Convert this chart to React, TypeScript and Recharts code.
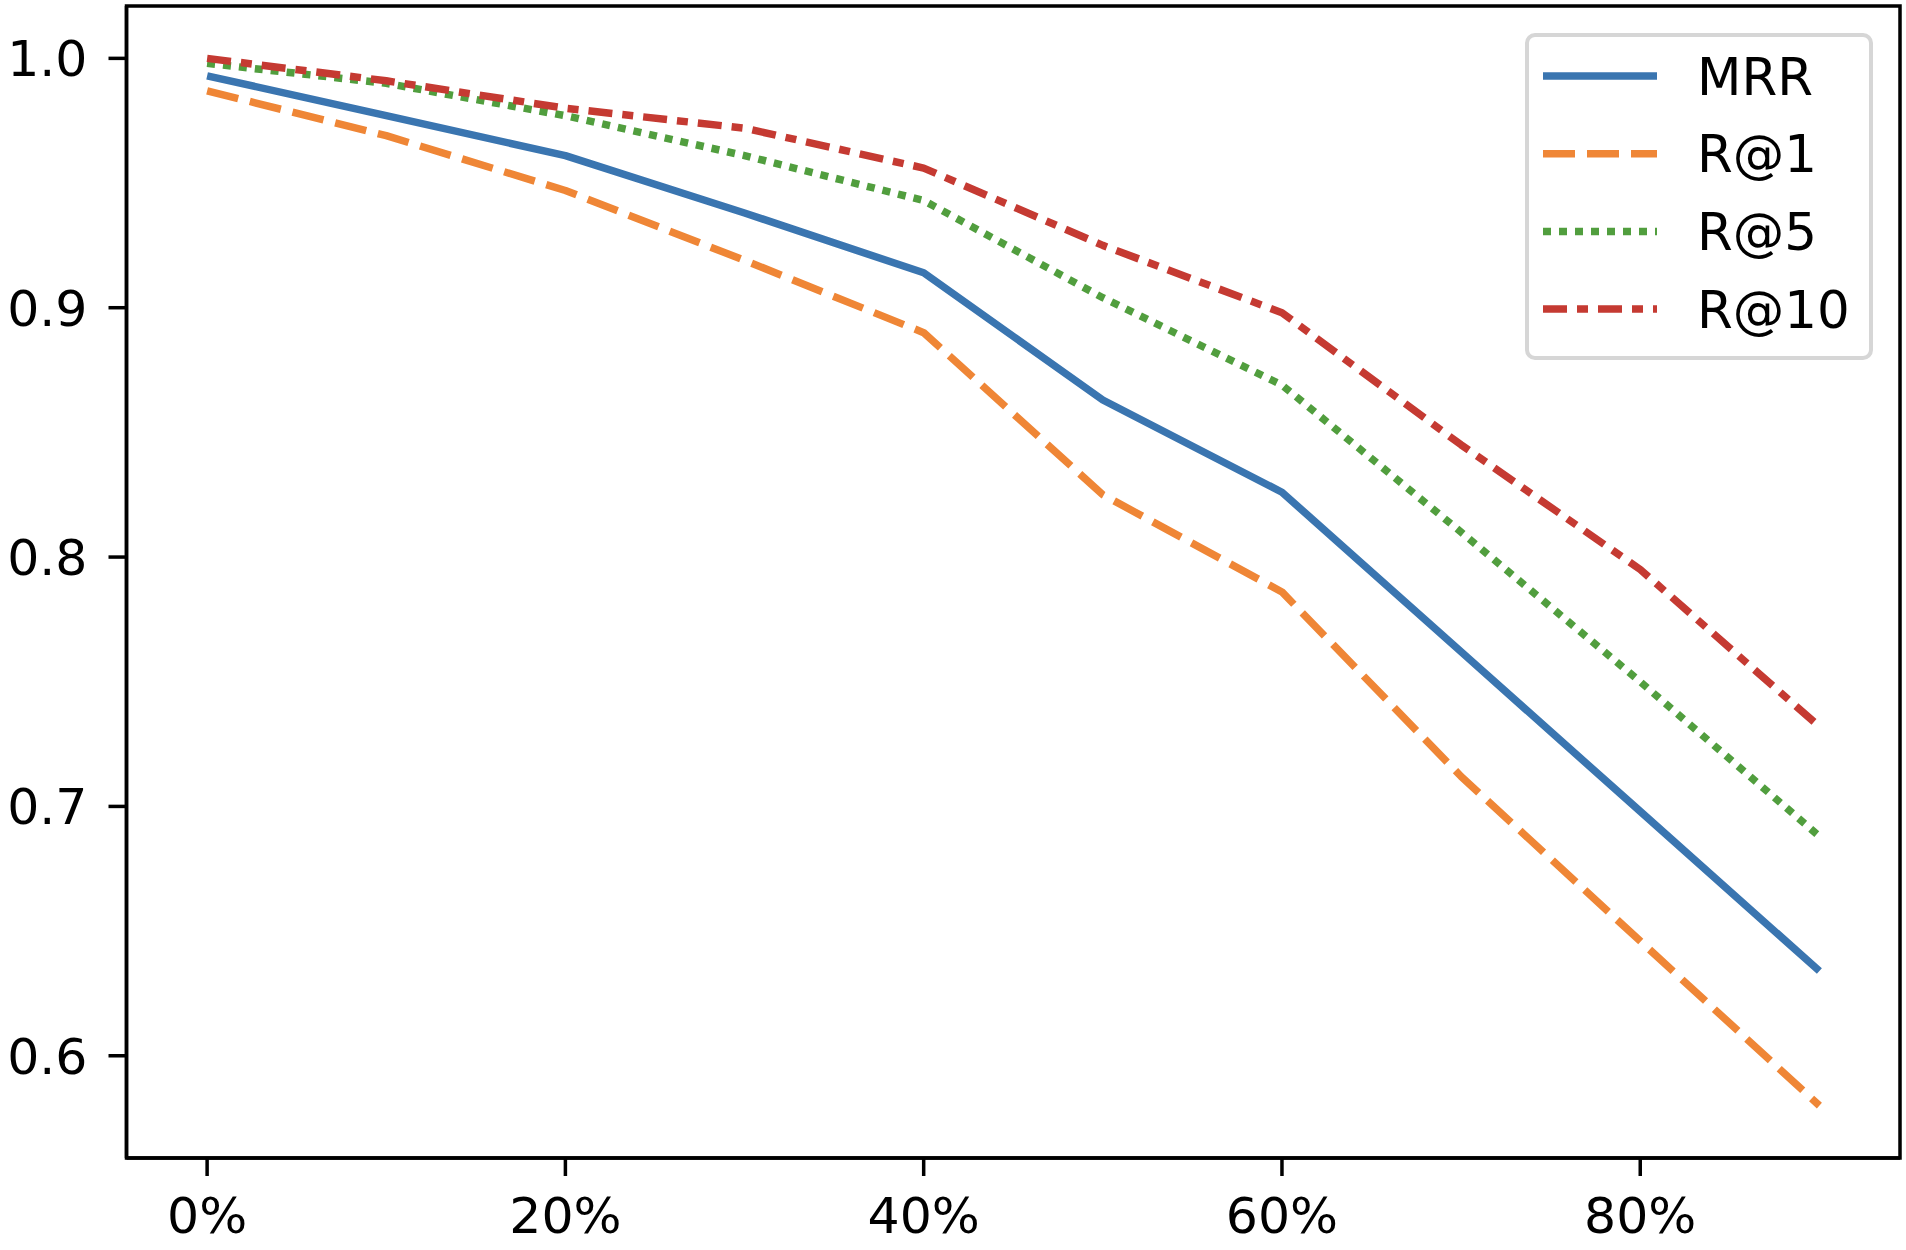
import { Legend, Line, LineChart, ReferenceArea, XAxis, YAxis } from "recharts";

const noise = [0, 10, 20, 30, 40, 50, 60, 70, 80, 90];
const mrr = [0.993, 0.977, 0.961, 0.938, 0.914, 0.863, 0.826, 0.762, 0.698, 0.634];
const r1 = [0.987, 0.969, 0.947, 0.919, 0.89, 0.825, 0.786, 0.712, 0.646, 0.58];
const r5 = [0.998, 0.99, 0.977, 0.961, 0.943, 0.904, 0.869, 0.81, 0.75, 0.688];
const r10 = [1.0, 0.991, 0.98, 0.972, 0.956, 0.925, 0.898, 0.845, 0.795, 0.732];

const xTicks = [0, 20, 40, 60, 80];
const yTicks = [0.6, 0.7, 0.8, 0.9, 1.0];
const X_DOMAIN: [number, number] = [-4.5, 94.5];
const Y_DOMAIN: [number, number] = [0.559, 1.021];

const SERIES = [
  { key: "mrr", name: "MRR", color: "#3a75b0", dash: undefined },
  { key: "r1", name: "R@1", color: "#ef8636", dash: "32 12" },
  { key: "r5", name: "R@5", color: "#519e3e", dash: "8 8" },
  { key: "r10", name: "R@10", color: "#c53a32", dash: "24 10 11 10" },
];

const FONT = "'DejaVu Sans', sans-serif";

const data = noise.map((n, i) => ({
  noise: n,
  mrr: mrr[i],
  r1: r1[i],
  r5: r5[i],
  r10: r10[i],
}));

function LegendBox() {
  return (
    <div
      style={{
        width: 348,
        height: 327,
        boxSizing: "border-box",
        border: "4px solid #d6d6d6",
        borderRadius: 10,
        background: "rgba(255,255,255,0.8)",
      }}
    >
      <svg width={340} height={319}>
        {SERIES.map((s, i) => {
          const y = 39 + i * 77.7;
          return (
            <g key={s.key}>
              <line
                x1={14}
                x2={128}
                y1={y}
                y2={y}
                stroke={s.color}
                strokeWidth={7.5}
                strokeDasharray={s.dash}
              />
              <text
                x={168}
                y={y}
                dy="0.36em"
                fontSize={51.5}
                fontFamily={FONT}
                fill="#000"
              >
                {s.name}
              </text>
            </g>
          );
        })}
      </svg>
    </div>
  );
}

export default function App() {
  const tickStyle = { fill: "#000", fontSize: 50.5, fontFamily: FONT };
  const axisStroke = { stroke: "#000", strokeWidth: 3.5 };
  return (
    <div style={{ width: 1906, height: 1250, background: "#fff" }}>
      <style>{`body { margin: 0; }`}</style>
      <LineChart
        width={1906}
        height={1250}
        data={data}
        margin={{ top: 6, right: 6, bottom: 0, left: 0 }}
      >
        <XAxis
          dataKey="noise"
          type="number"
          domain={X_DOMAIN}
          ticks={xTicks}
          tickFormatter={(v: number) => `${v}%`}
          tick={tickStyle}
          tickSize={18}
          tickMargin={21}
          tickLine={axisStroke}
          axisLine={axisStroke}
          height={92}
          allowDataOverflow
        />
        <YAxis
          type="number"
          domain={Y_DOMAIN}
          ticks={yTicks}
          tickFormatter={(v: number) => v.toFixed(1)}
          tick={tickStyle}
          tickSize={18}
          tickMargin={21}
          tickLine={axisStroke}
          axisLine={axisStroke}
          width={126.5}
          allowDataOverflow
        />
        <ReferenceArea
          x1={X_DOMAIN[0]}
          x2={X_DOMAIN[1]}
          y1={Y_DOMAIN[0]}
          y2={Y_DOMAIN[1]}
          fill="none"
          stroke="#000"
          strokeWidth={3.5}
          ifOverflow="visible"
        />
        {SERIES.map((s) => (
          <Line
            key={s.key}
            dataKey={s.key}
            name={s.name}
            type="linear"
            stroke={s.color}
            strokeWidth={7.5}
            strokeDasharray={s.dash}
            strokeLinejoin="round"
            dot={false}
            activeDot={false}
            isAnimationActive={false}
          />
        ))}
        <Legend
          layout="vertical"
          align="center"
          verticalAlign="middle"
          content={() => <LegendBox />}
          wrapperStyle={{ position: "absolute", left: 1525, top: 33, width: 348, height: 327 }}
        />
      </LineChart>
    </div>
  );
}
